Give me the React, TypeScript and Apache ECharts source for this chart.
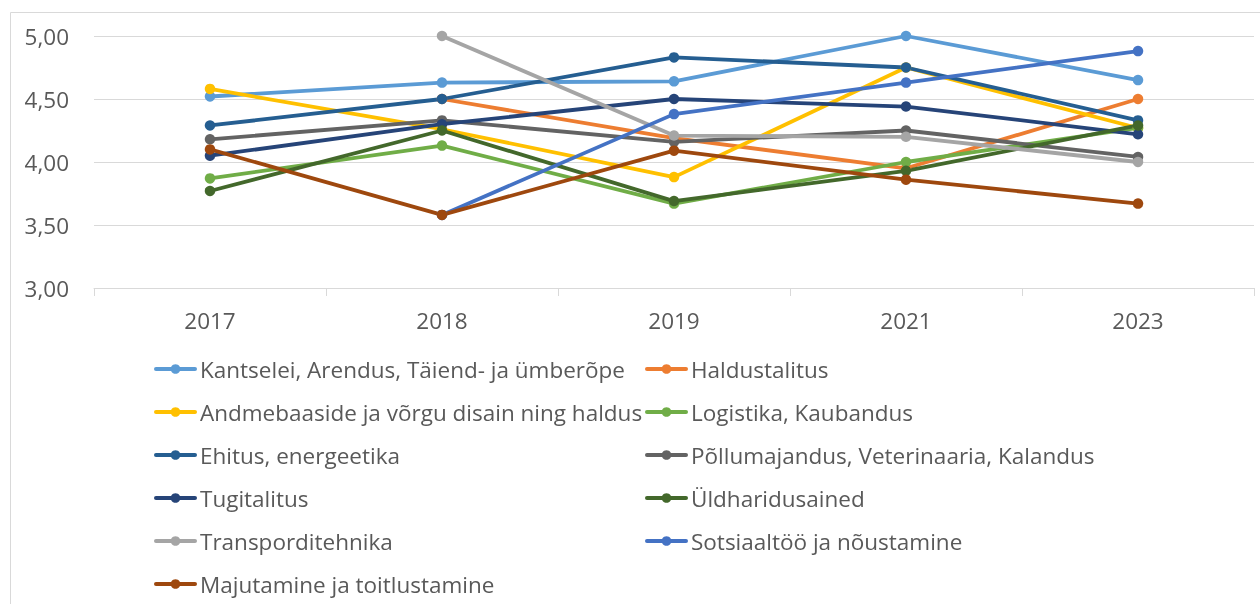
import React, { useEffect, useRef } from "react";
import * as echarts from "echarts";

const years = ["2017", "2018", "2019", "2021", "2023"];

const seriesNames = [
  "Kantselei, Arendus, Täiend- ja ümberõpe",
  "Haldustalitus",
  "Andmebaaside ja võrgu disain ning haldus",
  "Logistika, Kaubandus",
  "Ehitus, energeetika",
  "Põllumajandus, Veterinaaria, Kalandus",
  "Tugitalitus",
  "Üldharidusained",
  "Transporditehnika",
  "Sotsiaaltöö ja nõustamine",
  "Majutamine ja toitlustamine",
];

const kantselei = [4.52, 4.63, 4.64, 5.0, 4.65];
const haldustalitus = [null, 4.5, 4.19, 3.95, 4.5];
const andmebaasid = [4.58, 4.26, 3.88, 4.75, 4.27];
const logistika = [3.87, 4.13, 3.67, 4.0, 4.27];
const ehitus = [4.29, 4.5, 4.83, 4.75, 4.33];
const pollumajandus = [4.18, 4.33, 4.16, 4.25, 4.04];
const tugitalitus = [4.05, 4.3, 4.5, 4.44, 4.22];
const yldharidus = [3.77, 4.25, 3.69, 3.93, 4.29];
const transport = [null, 5.0, 4.21, 4.2, 4.0];
const sotsiaaltoo = [null, 3.58, 4.38, 4.63, 4.88];
const majutamine = [4.1, 3.58, 4.09, 3.86, 3.67];

const seriesValues = [
  kantselei,
  haldustalitus,
  andmebaasid,
  logistika,
  ehitus,
  pollumajandus,
  tugitalitus,
  yldharidus,
  transport,
  sotsiaaltoo,
  majutamine,
];

const seriesColors = [
  "#5B9BD5",
  "#ED7D31",
  "#FFC000",
  "#70AD47",
  "#255E91",
  "#636363",
  "#264478",
  "#43682B",
  "#A5A5A5",
  "#4472C4",
  "#9E480E",
];

const yTicks = { min: 3, max: 5, interval: 0.5 };

const FONT = "Open Sans";
const TEXT_COLOR = "#595959";
const GRID_COLOR = "#D9D9D9";

export default function App() {
  const ref = useRef<HTMLDivElement>(null);

  useEffect(() => {
    if (!ref.current) return;
    const chart = echarts.init(ref.current, undefined, { renderer: "svg" });

    const legendCommon = {
      orient: "vertical" as const,
      top: 357,
      padding: 0,
      itemWidth: 39,
      itemHeight: 12,
      itemGap: 19,
      selectedMode: false,
      lineStyle: { width: 4 },
      textStyle: {
        fontFamily: FONT,
        fontSize: 22.5,
        lineHeight: 24,
        color: TEXT_COLOR,
      },
    };

    chart.setOption({
      animation: false,
      color: seriesColors,
      graphic: [
        {
          type: "rect",
          shape: { x: 10.5, y: 12.5, width: 2000, height: 1000 },
          style: { fill: "none", stroke: GRID_COLOR, lineWidth: 1 },
          silent: true,
          z: -10,
        },
      ],
      grid: { left: 94, right: 6, top: 36, bottom: 316, containLabel: false },
      legend: [
        {
          ...legendCommon,
          left: 154,
          data: seriesNames.filter((_, i) => i % 2 === 0),
        },
        {
          ...legendCommon,
          left: 645,
          data: seriesNames.filter((_, i) => i % 2 === 1),
        },
      ],
      xAxis: {
        type: "category",
        data: years,
        boundaryGap: true,
        axisLine: { show: true, lineStyle: { color: GRID_COLOR, width: 1 } },
        axisTick: { show: true, length: 8, lineStyle: { color: GRID_COLOR } },
        axisLabel: {
          fontFamily: FONT,
          fontSize: 22.5,
          color: TEXT_COLOR,
          margin: 21,
        },
      },
      yAxis: {
        type: "value",
        min: yTicks.min,
        max: yTicks.max,
        interval: yTicks.interval,
        axisLine: { show: false },
        axisTick: { show: false },
        splitLine: { lineStyle: { color: GRID_COLOR, width: 1 } },
        axisLabel: {
          fontFamily: FONT,
          fontSize: 22.5,
          color: TEXT_COLOR,
          margin: 25,
          formatter: (v: number) => v.toFixed(2).replace(".", ","),
        },
      },
      series: seriesNames.map((name, i) => ({
        name,
        type: "line",
        data: seriesValues[i],
        symbol: "circle",
        symbolSize: 10.5,
        connectNulls: false,
        lineStyle: { width: 3.8, color: seriesColors[i], cap: "round", join: "round" },
        itemStyle: { color: seriesColors[i] },
      })),
    });

    return () => chart.dispose();
  }, []);

  return (
    <div
      ref={ref}
      style={{ position: "fixed", left: 0, top: 0, width: 1260, height: 604 }}
    />
  );
}
